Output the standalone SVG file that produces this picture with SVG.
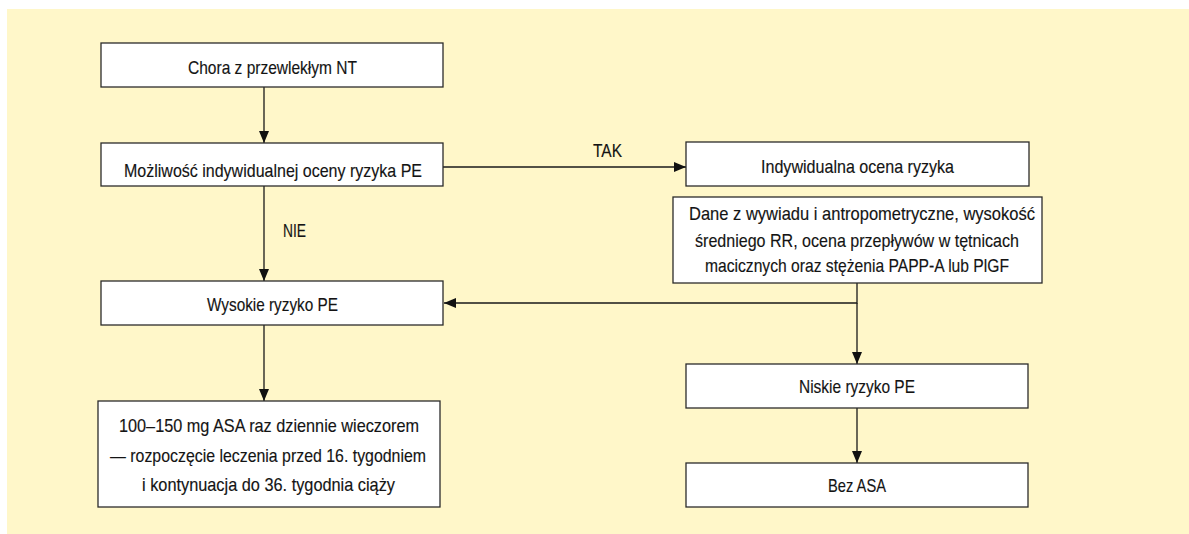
<svg xmlns="http://www.w3.org/2000/svg" width="1189" height="534" viewBox="0 0 1189 534">
  <style>
    .box { fill: #ffffff; stroke: #2b2b2b; stroke-width: 1.3; }
    .lbl { font-family: "Liberation Sans", Arial, sans-serif; font-size: 18.5px; fill: #141414; stroke: #141414; stroke-width: 0.15; }
    .c { text-anchor: middle; }
    .conn { fill: none; stroke: #1a1a1a; stroke-width: 1.3; }
  </style>
  <defs>
    <marker id="arrow" viewBox="0 0 12 10" refX="12" refY="5" markerWidth="12" markerHeight="10" markerUnits="userSpaceOnUse" orient="auto">
      <path d="M0,0 L12,5 L0,10 z" fill="#111111"/>
    </marker>
  </defs>

  <!-- panel background -->
  <rect x="7" y="9" width="1182" height="525" fill="#fff7c9"/>

  <!-- connectors -->
  <g id="connectors">
    <line class="conn" x1="264" y1="87" x2="264" y2="143" marker-end="url(#arrow)"/>
    <line class="conn" x1="443" y1="167" x2="686" y2="167" marker-end="url(#arrow)"/>
    <line class="conn" x1="264" y1="186" x2="264" y2="281" marker-end="url(#arrow)"/>
    <polyline class="conn" points="857,283 857,303 444,303" marker-end="url(#arrow)"/>
    <line class="conn" x1="857" y1="303" x2="857" y2="364" marker-end="url(#arrow)"/>
    <line class="conn" x1="264" y1="325" x2="264" y2="401" marker-end="url(#arrow)"/>
    <line class="conn" x1="857" y1="408" x2="857" y2="463" marker-end="url(#arrow)"/>
    <text class="lbl" x="283" y="237" textLength="23" lengthAdjust="spacingAndGlyphs">NIE</text>
    <text class="lbl" x="593" y="157" textLength="29" lengthAdjust="spacingAndGlyphs">TAK</text>
  </g>

  <g id="chora">
    <rect class="box" x="101" y="43" width="342" height="44"/>
    <text class="lbl c" x="272.5" y="74" textLength="169" lengthAdjust="spacingAndGlyphs">Chora z przewlekłym NT</text>
  </g>

  <g id="mozliwosc">
    <rect class="box" x="101" y="143" width="342" height="43"/>
    <text class="lbl c" x="273" y="177" textLength="298" lengthAdjust="spacingAndGlyphs">Możliwość indywidualnej oceny ryzyka PE</text>
  </g>

  <g id="indywidualna">
    <rect class="box" x="686" y="142" width="343" height="44"/>
    <text class="lbl c" x="857.5" y="173" textLength="193" lengthAdjust="spacingAndGlyphs">Indywidualna ocena ryzyka</text>
  </g>

  <g id="dane">
    <rect class="box" x="673" y="197" width="369" height="86"/>
    <text class="lbl c" x="862" y="220" textLength="346" lengthAdjust="spacingAndGlyphs">Dane z wywiadu i antropometryczne, wysokość</text>
    <text class="lbl c" x="857" y="247" textLength="324" lengthAdjust="spacingAndGlyphs">średniego RR, ocena przepływów w tętnicach</text>
    <text class="lbl c" x="857" y="272" textLength="304" lengthAdjust="spacingAndGlyphs">macicznych oraz stężenia PAPP-A lub PlGF</text>
  </g>

  <g id="wysokie">
    <rect class="box" x="101" y="281" width="342" height="44"/>
    <text class="lbl c" x="272.5" y="311" textLength="131" lengthAdjust="spacingAndGlyphs">Wysokie ryzyko PE</text>
  </g>

  <g id="niskie">
    <rect class="box" x="686" y="364" width="342" height="44"/>
    <text class="lbl c" x="857" y="393" textLength="116" lengthAdjust="spacingAndGlyphs">Niskie ryzyko PE</text>
  </g>

  <g id="asa">
    <rect class="box" x="98" y="401" width="342" height="106"/>
    <text class="lbl c" x="269" y="432" textLength="300" lengthAdjust="spacingAndGlyphs">100–150 mg ASA raz dziennie wieczorem</text>
    <text class="lbl c" x="268" y="462" textLength="316" lengthAdjust="spacingAndGlyphs">— rozpoczęcie leczenia przed 16. tygodniem</text>
    <text class="lbl c" x="268.5" y="491" textLength="253" lengthAdjust="spacingAndGlyphs">i kontynuacja do 36. tygodnia ciąży</text>
  </g>

  <g id="bez-asa">
    <rect class="box" x="686" y="463" width="342" height="44"/>
    <text class="lbl c" x="857" y="492" textLength="58" lengthAdjust="spacingAndGlyphs">Bez ASA</text>
  </g>
</svg>
